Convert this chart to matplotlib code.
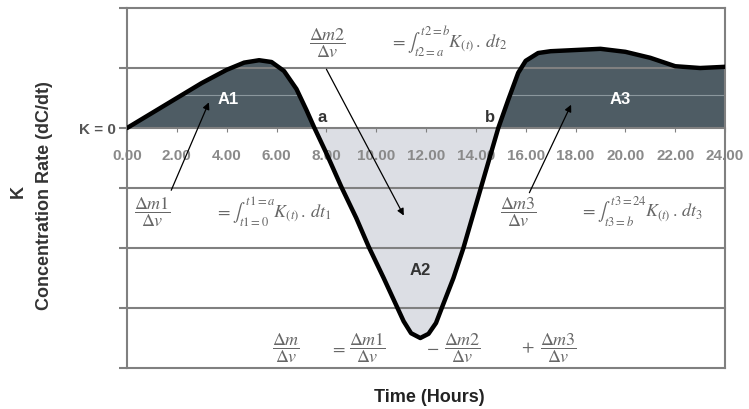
import matplotlib
matplotlib.use("Agg")
import matplotlib.pyplot as plt
from matplotlib.path import Path
import numpy as np

plt.rcParams['font.family'] = ['Liberation Sans', 'DejaVu Sans']
plt.rcParams['mathtext.fontset'] = 'stix'

# values (hours, concentration rate K)
hours = [0, 1, 2, 3, 4, 4.7, 5.3, 5.8, 6.3, 6.8, 7.2, 7.5, 8, 8.6, 9.2, 9.7,
         10.3, 10.8, 11.1, 11.4, 11.77, 12.1, 12.4, 12.65, 13.1, 13.5, 14.2,
         14.9, 15.3, 15.7, 16, 16.5, 17, 18, 19, 20, 21, 22, 23, 24]
rate = [0, 0.25, 0.5, 0.75, 0.97, 1.09, 1.13, 1.1, 0.95, 0.65, 0.3, 0.02,
        -0.42, -0.98, -1.5, -1.98, -2.5, -2.95, -3.22, -3.42, -3.5, -3.43,
        -3.25, -2.98, -2.5, -2.0, -1.0, 0.0, 0.47, 0.92, 1.12, 1.25, 1.28,
        1.3, 1.32, 1.27, 1.17, 1.03, 1.0, 1.02]
xticks = np.arange(0, 25, 2)
grid_levels = [-4, -3, -2, -1, 1, 2]

t = np.array(hours)
k = np.array(rate)

dark = '#4e5c64'
light = '#dcdee4'
gridc = '#808080'

fig = plt.figure(figsize=(7.49, 4.09), dpi=100)
ax = fig.add_axes([0.1696, 0.1002, 0.7984, 0.8802])

ax.set_xlim(0, 24)
ax.set_ylim(-4, 2)

# filled areas
pos = ax.fill_between(t, 0, k, where=k >= 0, interpolate=True, color=dark, zorder=1)
ax.fill_between(t, 0, k, where=k <= 0, interpolate=True, color=light, zorder=1)
# faint line only visible inside the dark areas
faint = ax.axhline(0.55, color='#8b979d', lw=0.8, zorder=1.5)
faint.set_clip_path(Path.make_compound_path(*pos.get_paths()), transform=ax.transData)

for g in grid_levels:
    ax.axhline(g, color=gridc, lw=1.5, zorder=2, clip_on=False)

ax.plot(t, k, color='black', lw=3.2, solid_joinstyle='round',
        solid_capstyle='round', zorder=5)

# axes look
ax.spines['bottom'].set_position(('data', 0))
ax.spines['bottom'].set_color(gridc)
ax.spines['bottom'].set_linewidth(1.5)
ax.spines['top'].set_visible(False)
for s in ['left', 'right']:
    ax.spines[s].set_color(gridc)
    ax.spines[s].set_linewidth(1.5)

ax.set_xticks(xticks)
ax.set_xticklabels([f'{v:.2f}' for v in xticks], color='#8a8a8a',
                   fontsize=11, fontweight='bold')
ax.tick_params(axis='x', length=3, color=gridc, pad=12)
ax.set_yticks([-4, -3, -2, -1, 0, 1, 2])
ax.set_yticklabels(['', '', '', '', 'K = 0', '', ''], color='#555555',
                   fontsize=11, fontweight='bold')
ax.tick_params(axis='y', length=6, color=gridc, width=1.5, pad=2)

# axis titles
fig.text(18 / 749, 1 - 192 / 409, 'K', rotation=90, fontsize=13,
         fontweight='bold', color='#333333', ha='center', va='center')
fig.text(45 / 749, 1 - 196 / 409, 'Concentration Rate (dC/dt)', rotation=90,
         fontsize=13, fontweight='bold', color='#333333', ha='center',
         va='center')
fig.text(429 / 749, 1 - 398 / 409, 'Time (Hours)', fontsize=13,
         fontweight='bold', color='#222222', ha='center', va='center')

# region labels
ax.text(4.06, 0.47, 'A1', color='white', fontsize=12, fontweight='bold',
        ha='center', va='center', zorder=6)
ax.text(19.8, 0.47, 'A3', color='white', fontsize=12, fontweight='bold',
        ha='center', va='center', zorder=6)
ax.text(11.77, -2.37, 'A2', color='#333333', fontsize=12, fontweight='bold',
        ha='center', va='center', zorder=6)
ax.text(7.83, 0.17, 'a', color='#333333', fontsize=12, fontweight='bold',
        ha='center', va='center', zorder=6)
ax.text(14.58, 0.17, 'b', color='#333333', fontsize=12, fontweight='bold',
        ha='center', va='center', zorder=6)

# formulas
fc = '#666666'
fs = 13
ax.text(8.03, 1.42, r'$\dfrac{\Delta m2}{\Delta v}$', color=fc, fontsize=fs,
        ha='center', va='center', zorder=6)
ax.text(10.56, 1.42, r'$= \int_{t2=a}^{t2=b} K_{(t)}\,.\,dt_2$', color=fc,
        fontsize=fs, ha='left', va='center', zorder=6)
ax.text(1.04, -1.4, r'$\dfrac{\Delta m1}{\Delta v}$', color=fc, fontsize=fs,
        ha='center', va='center', zorder=6)
ax.text(3.53, -1.4, r'$= \int_{t1=0}^{t1=a} K_{(t)}\,.\,dt_1$', color=fc,
        fontsize=fs, ha='left', va='center', zorder=6)
ax.text(15.7, -1.4, r'$\dfrac{\Delta m3}{\Delta v}$', color=fc, fontsize=fs,
        ha='center', va='center', zorder=6)
ax.text(18.18, -1.4, r'$= \int_{t3=b}^{t3=24} K_{(t)}\,.\,dt_3$', color=fc,
        fontsize=fs, ha='left', va='center', zorder=6)

ax.text(6.38, -3.67, r'$\dfrac{\Delta m}{\Delta v}$', color=fc, fontsize=fs,
        ha='center', va='center', zorder=6)
ax.text(8.46, -3.67, r'$=$', color=fc, fontsize=fs, ha='center', va='center', zorder=6)
ax.text(9.67, -3.67, r'$\dfrac{\Delta m1}{\Delta v}$', color=fc, fontsize=fs,
        ha='center', va='center', zorder=6)
ax.text(12.28, -3.67, r'$-$', color=fc, fontsize=fs, ha='center', va='center', zorder=6)
ax.text(13.48, -3.67, r'$\dfrac{\Delta m2}{\Delta v}$', color=fc, fontsize=fs,
        ha='center', va='center', zorder=6)
ax.text(16.09, -3.67, r'$+$', color=fc, fontsize=fs, ha='center', va='center', zorder=6)
ax.text(17.3, -3.67, r'$\dfrac{\Delta m3}{\Delta v}$', color=fc, fontsize=fs,
        ha='center', va='center', zorder=6)

# arrows
arrow = dict(arrowstyle='-|>', color='black', lw=0.9, mutation_scale=10)
ax.annotate('', xy=(3.33, 0.47), xytext=(1.73, -1.08), arrowprops=arrow, zorder=7)
ax.annotate('', xy=(11.16, -1.5), xytext=(7.95, 1.02), arrowprops=arrow, zorder=7)
ax.annotate('', xy=(17.87, 0.43), xytext=(16.1, -1.12), arrowprops=arrow, zorder=7)

fig.savefig('out.png', dpi=100)
